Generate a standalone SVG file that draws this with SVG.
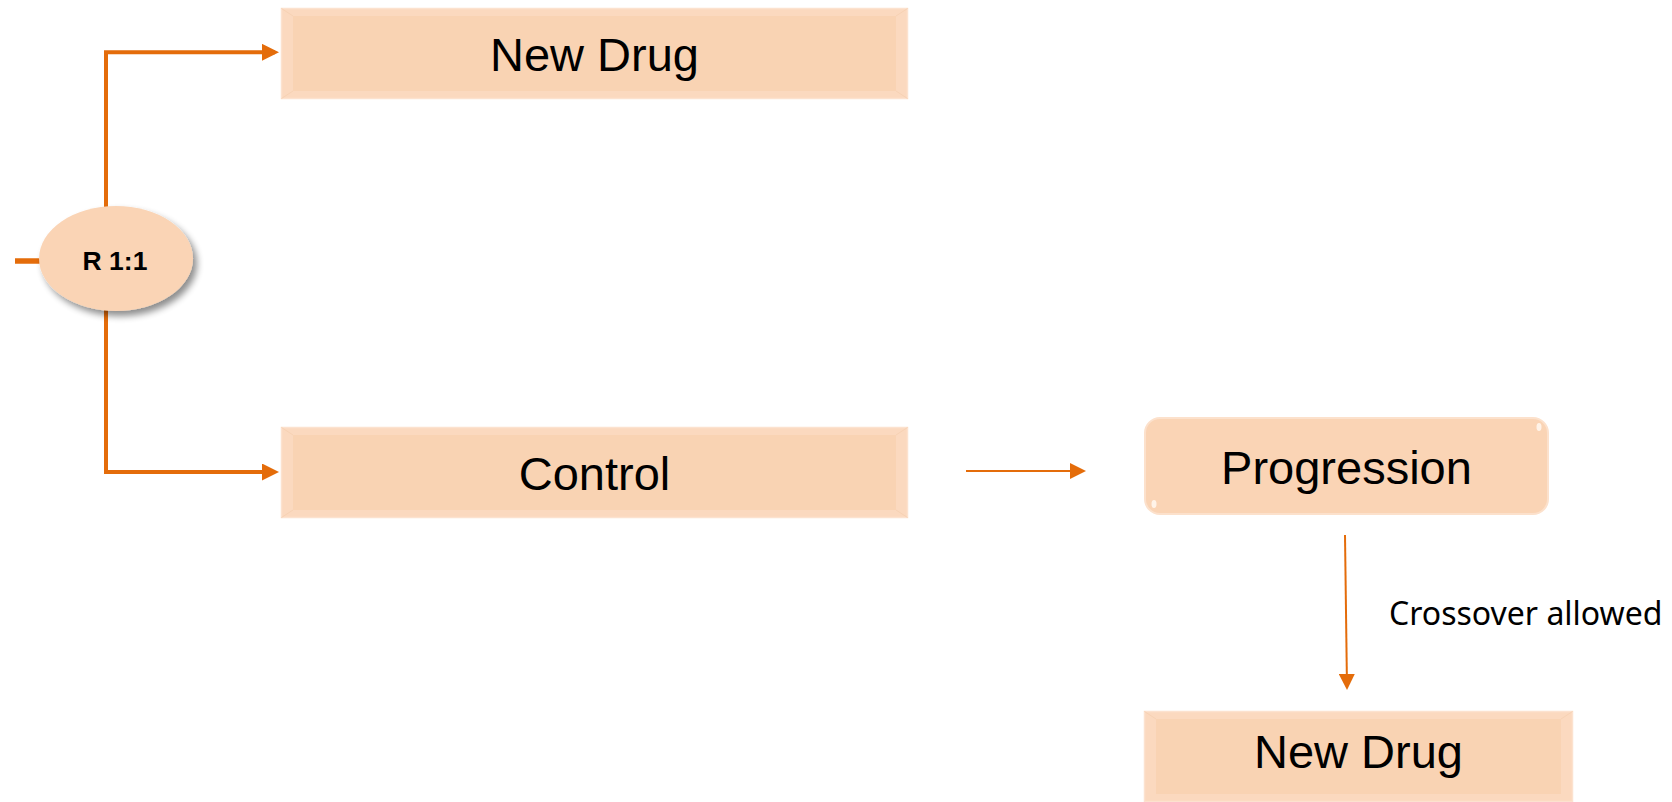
<svg xmlns="http://www.w3.org/2000/svg" width="1672" height="802" viewBox="0 0 1672 802">
<style>
.outer{fill:#FBD9BF;stroke:#FCE2CF;stroke-width:1.5}
.inner{fill:#F9D3B3}
.bev{stroke:#F7D2B4;stroke-width:1;fill:none}
.lbl{font-family:"Liberation Sans",Arial,sans-serif;font-size:47px;fill:#000;text-anchor:middle}
.thick{stroke:#E46C0A;stroke-width:4;fill:none}
.thin{stroke:#E46C0A;stroke-width:2;fill:none}
</style>
<defs>
<marker id="hk" markerUnits="userSpaceOnUse" markerWidth="17" markerHeight="17" viewBox="0 0 17 17" refX="13" refY="8.5" orient="auto"><path d="M0,0 L17,8.5 L0,17 z" fill="#E46C0A"/></marker>
<marker id="hn" markerUnits="userSpaceOnUse" markerWidth="16" markerHeight="16" viewBox="0 0 16 16" refX="14" refY="8" orient="auto"><path d="M0,0 L16,8 L0,16 z" fill="#E46C0A"/></marker>
<filter id="sh" x="-20%" y="-20%" width="150%" height="160%"><feGaussianBlur in="SourceAlpha" stdDeviation="3.5"/><feOffset dx="4" dy="5" result="b"/><feComponentTransfer><feFuncA type="linear" slope="0.45"/></feComponentTransfer><feMerge><feMergeNode/><feMergeNode in="SourceGraphic"/></feMerge></filter>
</defs>
<g id="connectors">
<path stroke="#E46C0A" stroke-width="5.5" fill="none" d="M15,261 H40"/>
<path class="thick" d="M106,207 V52.3 H275" marker-end="url(#hk)"/>
<path class="thick" d="M106,310 V472 H275" marker-end="url(#hk)"/>
<path class="thin" d="M966,471 H1084" marker-end="url(#hn)"/>
<path class="thin" d="M1345,535 L1347,688" marker-end="url(#hn)"/>
<text x="1389" y="625" font-family="'Noto Sans','Open Sans',sans-serif" font-size="32" fill="#000">Crossover allowed</text>
</g>
<g id="randomize">
<ellipse cx="116" cy="258.5" rx="77" ry="52.5" fill="#FAD4B5" filter="url(#sh)"/>
<text x="115" y="270" font-family="'Liberation Sans',Arial,sans-serif" font-size="26.5" font-weight="bold" text-anchor="middle" fill="#000">R 1:1</text>
</g>
<g id="newdrug-top">
<rect class="outer" x="281.5" y="8.5" width="626" height="90"/>
<rect class="inner" x="293" y="16" width="603" height="75"/>
<path class="bev" d="M281.5,8.5 L293,16 M907.5,8.5 L896,16 M281.5,98.5 L293,91 M907.5,98.5 L896,91"/>
<text class="lbl" x="594.5" y="71">New Drug</text>
</g>
<g id="control">
<rect class="outer" x="281.5" y="427.5" width="626" height="90"/>
<rect class="inner" x="293" y="435" width="603" height="75"/>
<path class="bev" d="M281.5,427.5 L293,435 M907.5,427.5 L896,435 M281.5,517.5 L293,510 M907.5,517.5 L896,510"/>
<text class="lbl" x="594.5" y="490">Control</text>
</g>
<g id="progression">
<rect x="1145" y="418" width="403" height="96" rx="15" fill="#FAD4B5" stroke="#FCE1CC" stroke-width="2"/>
<ellipse cx="1539" cy="427" rx="2.5" ry="4" fill="#FFF3E8"/>
<ellipse cx="1154" cy="504" rx="2.5" ry="4" fill="#FFF3E8"/>
<text class="lbl" x="1346.5" y="484">Progression</text>
</g>
<g id="newdrug-bottom">
<rect class="outer" x="1144.5" y="711.5" width="428" height="90"/>
<rect class="inner" x="1156" y="719" width="405" height="75"/>
<path class="bev" d="M1144.5,711.5 L1156,719 M1572.5,711.5 L1561,719"/>
<text class="lbl" x="1358.5" y="768">New Drug</text>
</g>
</svg>
